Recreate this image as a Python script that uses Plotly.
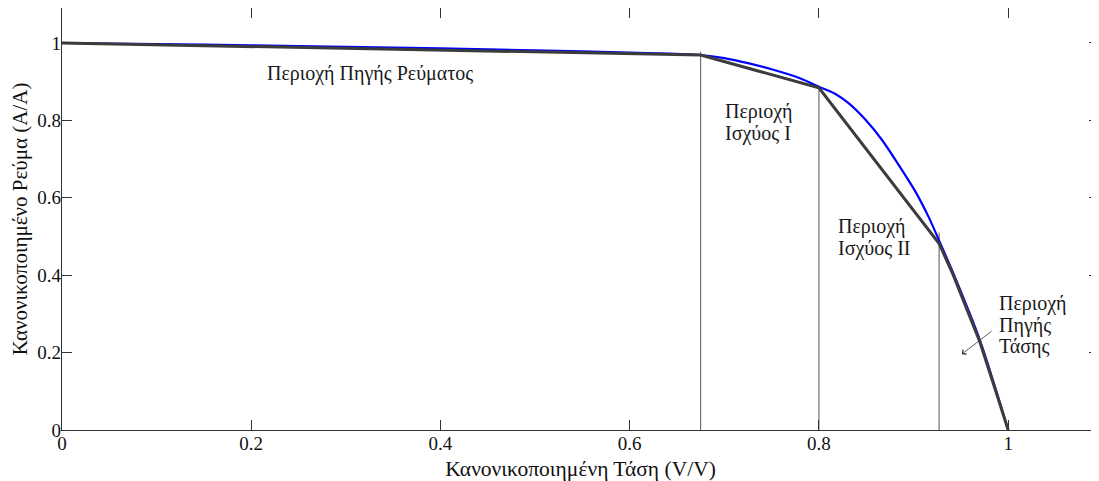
import plotly.graph_objects as go

# Blue measured I-V curve (normalized)
v_curve = [0.0, 0.1, 0.2, 0.3, 0.4, 0.5, 0.6, 0.675, 0.70, 0.725, 0.75, 0.78, 0.80,
           0.817, 0.831, 0.849, 0.8665, 0.884, 0.902, 0.916, 0.928, 0.942, 0.970, 1.0]
i_curve = [1.0, 0.997, 0.994, 0.990, 0.986, 0.981, 0.975, 0.969, 0.961, 0.948, 0.932, 0.909, 0.887,
           0.869, 0.845, 0.802, 0.750, 0.686, 0.616, 0.550, 0.484, 0.405, 0.233, 0.0]

# Piecewise approximation (dark gray)
v_pw = [0.0, 0.675, 0.8, 0.927, 0.942, 0.956, 0.970, 0.985, 1.0]
i_pw = [1.0, 0.969, 0.884, 0.482, 0.400, 0.315, 0.228, 0.115, 0.0]

# Region boundaries (vertical lines) and their top heights
bound_x = [0.675, 0.8, 0.927]
bound_top = [0.977, 0.886, 0.51]

# Region label lines
label_lines = ["Περιοχή Πηγής Ρεύματος",
               "Περιοχή", "Ισχύος Ι",
               "Περιοχή", "Ισχύος ΙΙ",
               "Περιοχή", "Πηγής", "Τάσης"]
label_x = [0.3256, 0.6985, 0.6985, 0.818, 0.818, 0.9887, 0.9887, 0.9887]
label_y = [0.92, 0.822, 0.765, 0.525, 0.469, 0.327, 0.271, 0.215]
label_anchor = ["center", "left", "left", "left", "left", "left", "left", "left"]

ticks = [0, 0.2, 0.4, 0.6, 0.8, 1]
tick_text = ["0", "0.2", "0.4", "0.6", "0.8", "1"]

FONT = "Liberation Serif, Times New Roman, serif"

fig = go.Figure()

for bx, bt in zip(bound_x, bound_top):
    fig.add_trace(go.Scatter(x=[bx, bx], y=[0, bt], mode="lines",
                             line=dict(color="#555555", width=1),
                             showlegend=False, hoverinfo="skip"))

fig.add_trace(go.Scatter(x=v_curve, y=i_curve, mode="lines",
                         line=dict(color="#0000ff", width=2.2, shape="spline", smoothing=0.8),
                         showlegend=False))
fig.add_trace(go.Scatter(x=v_pw, y=i_pw, mode="lines",
                         line=dict(color="#3c3c3c", width=3),
                         showlegend=False))

for t, x, y, a in zip(label_lines, label_x, label_y, label_anchor):
    fig.add_annotation(x=x, y=y, text=t, showarrow=False, xanchor=a, yanchor="middle",
                       align="left", font=dict(family=FONT, size=20, color="#1a1a1a"))

# arrow pointing to the voltage-source region
fig.add_annotation(x=0.951, y=0.196, ax=0.984, ay=0.258, axref="x", ayref="y",
                   xref="x", yref="y", text="", showarrow=True,
                   arrowhead=4, arrowsize=1.4, arrowwidth=0.8, arrowcolor="#333333")

axis_common = dict(showgrid=False, zeroline=False, showline=True, linecolor="#333333",
                   linewidth=1.2, mirror="ticks", ticks="inside", ticklen=10,
                   tickcolor="#333333", tickwidth=1, automargin=False,
                   tickfont=dict(family=FONT, size=19, color="#111111"))

fig.update_xaxes(range=[0, 1.096], tickvals=ticks, ticktext=tick_text,
                 ticklabelstandoff=-4,
                 title=dict(text="Κανονικοποιημένη Τάση (V/V)", standoff=10,
                            font=dict(family=FONT, size=21.5, color="#111111")),
                 **axis_common)
fig.update_yaxes(range=[0, 1.0904], tickvals=ticks, ticktext=tick_text,
                 ticklabelstandoff=-4,
                 title=dict(text="Κανονικοποιημένο Ρεύμα (A/A)", standoff=10,
                            font=dict(family=FONT, size=21, color="#111111")),
                 **axis_common)

# page body has an 8px margin: size the figure so it fills the rest of the window
fig.update_layout(width=1091, height=473, plot_bgcolor="white", paper_bgcolor="white",
                  margin=dict(l=54, r=0, t=0, b=51))

fig.write_html("out.html")
